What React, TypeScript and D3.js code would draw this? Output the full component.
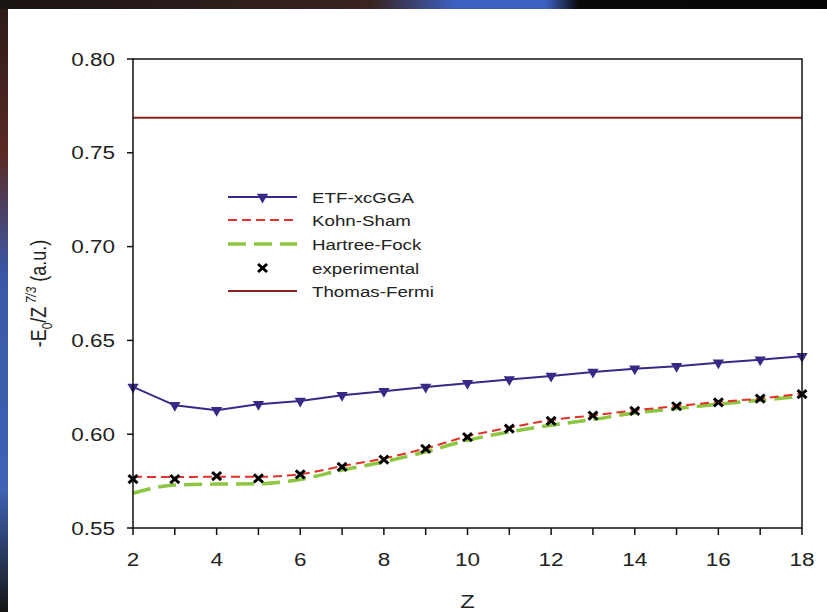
import React from "react";
import * as d3 from "d3";

const zValues = [2, 3, 4, 5, 6, 7, 8, 9, 10, 11, 12, 13, 14, 15, 16, 17, 18];
const etfXcGGA = [0.6252, 0.6154, 0.6128, 0.616, 0.6177, 0.6207, 0.6229, 0.6252, 0.6272, 0.6291, 0.631, 0.6331, 0.6349, 0.6362, 0.6381, 0.6397, 0.6415];
const kohnSham = [0.5773, 0.5772, 0.5773, 0.5773, 0.5787, 0.583, 0.5871, 0.5924, 0.5989, 0.6035, 0.6075, 0.61, 0.6127, 0.615, 0.6172, 0.619, 0.6217];
const hartreeFock = [0.5685, 0.5729, 0.5734, 0.5736, 0.5759, 0.5809, 0.5853, 0.5906, 0.5968, 0.6012, 0.6048, 0.6078, 0.6113, 0.6137, 0.616, 0.6181, 0.6202];
const experimental = [0.5761, 0.5761, 0.5777, 0.5764, 0.5786, 0.5826, 0.5865, 0.5922, 0.5984, 0.603, 0.6071, 0.6099, 0.6124, 0.6149, 0.617, 0.619, 0.6213];
const thomasFermi = 0.7687;

const xTickLabels = [2, 4, 6, 8, 10, 12, 14, 16, 18];
const yTickLabels = [0.55, 0.6, 0.65, 0.7, 0.75, 0.8];
const legendNames = ["ETF-xcGGA", "Kohn-Sham", "Hartree-Fock", "experimental", "Thomas-Fermi"];

const W = 827;
const H = 612;
const M = { left: 133, right: 802, top: 59, bottom: 528 };
const SX = 1.25; // the source picture is stretched sideways

const C_ETF = "#372a86";
const C_KS = "#e3312b";
const C_HF = "#8dc641";
const C_TF = "#8a2222";
const FONT = "'Liberation Sans', Arial, sans-serif";

export default function App() {
  const x = d3.scaleLinear().domain([2, 18]).range([M.left, M.right]);
  const y = d3.scaleLinear().domain([0.55, 0.8]).range([M.bottom, M.top]);

  const straight = d3
    .line<number>()
    .x((_, i) => x(zValues[i]))
    .y((d) => y(d));
  const smooth = d3
    .line<number>()
    .x((_, i) => x(zValues[i]))
    .y((d) => y(d))
    .curve(d3.curveMonotoneX);

  const tri = d3.symbol().type(d3.symbolTriangle).size(55)();

  // legend
  const lx0 = 228;
  const lx1 = 297;
  const ltx = 312;
  const rows = [197, 220, 244, 268, 291];

  const xMark = (cx: number, cy: number, key: string | number) => (
    <g key={key} stroke="#000" strokeWidth={3} strokeLinecap="butt">
      <line x1={cx - 4.5} y1={cy - 4} x2={cx + 4.5} y2={cy + 4} />
      <line x1={cx - 4.5} y1={cy + 4} x2={cx + 4.5} y2={cy - 4} />
    </g>
  );

  const wideText = (
    tx: number,
    ty: number,
    label: string | number,
    size: number,
    anchor: "start" | "middle" | "end",
    key?: string
  ) => (
    <text
      key={key}
      transform={`translate(${tx},${ty}) scale(${SX},1)`}
      textAnchor={anchor}
      fontSize={size}
      fill="#222"
    >
      {label}
    </text>
  );

  return (
    <svg
      width={W}
      height={H}
      style={{ position: "absolute", left: 0, top: 0, display: "block" }}
      fontFamily={FONT}
    >
      <defs>
        <linearGradient id="edge" x1="0" y1="0" x2="0" y2="1">
          <stop offset="0" stopColor="#2a1a18" />
          <stop offset="0.25" stopColor="#5a2a24" />
          <stop offset="0.45" stopColor="#3a58a8" />
          <stop offset="0.8" stopColor="#3f62b4" />
          <stop offset="1" stopColor="#161616" />
        </linearGradient>
        <linearGradient id="topband" x1="0" y1="0" x2="1" y2="0">
          <stop offset="0" stopColor="#1a1412" />
          <stop offset="0.45" stopColor="#3a2422" />
          <stop offset="0.55" stopColor="#3d5fc0" />
          <stop offset="0.66" stopColor="#3d5fc0" />
          <stop offset="0.7" stopColor="#0a0a0a" />
          <stop offset="1" stopColor="#050505" />
        </linearGradient>
      </defs>
      <rect x={0} y={0} width={W} height={H} fill="url(#edge)" />
      <rect x={0} y={0} width={W} height={9} fill="url(#topband)" />
      <rect x={8} y={9} width={W - 8} height={H - 9} fill="#fff" />

      {/* Thomas-Fermi */}
      <line
        x1={x(2)}
        x2={x(18)}
        y1={y(thomasFermi)}
        y2={y(thomasFermi)}
        stroke={C_TF}
        strokeWidth={2}
      />

      {/* Hartree-Fock */}
      <path
        d={smooth(hartreeFock) || ""}
        fill="none"
        stroke={C_HF}
        strokeWidth={3.5}
        strokeDasharray="18 8"
      />
      {/* Kohn-Sham */}
      <path
        d={smooth(kohnSham) || ""}
        fill="none"
        stroke={C_KS}
        strokeWidth={2}
        strokeDasharray="9 5"
      />
      {/* ETF-xcGGA */}
      <path d={straight(etfXcGGA) || ""} fill="none" stroke={C_ETF} strokeWidth={2} />
      {etfXcGGA.map((v, i) => (
        <path
          key={"t" + i}
          d={tri || ""}
          fill={C_ETF}
          transform={`translate(${x(zValues[i])},${y(v)}) rotate(180)`}
        />
      ))}
      {experimental.map((v, i) => xMark(x(zValues[i]), y(v), "e" + i))}

      {/* frame */}
      <rect
        x={M.left}
        y={M.top}
        width={M.right - M.left}
        height={M.bottom - M.top}
        fill="none"
        stroke="#111"
        strokeWidth={1.5}
      />

      {/* x ticks */}
      {zValues.map((z) => (
        <line key={"xt" + z} x1={x(z)} x2={x(z)} y1={M.bottom} y2={M.bottom + 7} stroke="#111" strokeWidth={1.5} />
      ))}
      {xTickLabels.map((z) => wideText(x(z), 566, z, 18, "middle", "xl" + z))}
      {/* y ticks */}
      {yTickLabels.map((v) => (
        <g key={"y" + v}>
          <line x1={M.left - 6} x2={M.left} y1={y(v)} y2={y(v)} stroke="#111" strokeWidth={1.5} />
          {wideText(115, y(v) + 6.5, v.toFixed(2), 18, "end")}
        </g>
      ))}

      {wideText(x(10), 608, "Z", 19, "middle")}
      <text
        transform={`translate(46,${(M.top + M.bottom) / 2}) rotate(-90) scale(1,${SX})`}
        textAnchor="middle"
        fontSize={18}
        fill="#222"
      >
        -E
        <tspan fontSize={12} dy={5}>0</tspan>
        <tspan dy={-5}>/Z</tspan>
        <tspan fontSize={12} dy={-8} fontStyle="italic"> 7/3</tspan>
        <tspan dy={8}> (a.u.)</tspan>
      </text>

      {/* legend */}
      <g>
        <line x1={lx0} x2={lx1} y1={rows[0]} y2={rows[0]} stroke={C_ETF} strokeWidth={2} />
        <path d={tri || ""} fill={C_ETF} transform={`translate(${(lx0 + lx1) / 2},${rows[0]}) rotate(180)`} />

        <line x1={lx0} x2={lx1} y1={rows[1]} y2={rows[1]} stroke={C_KS} strokeWidth={2} strokeDasharray="9 5" />
        <line x1={lx0} x2={lx1} y1={rows[2]} y2={rows[2]} stroke={C_HF} strokeWidth={3.5} strokeDasharray="18 8" />
        {xMark((lx0 + lx1) / 2, rows[3], "lx")}
        <line x1={lx0} x2={lx1} y1={rows[4]} y2={rows[4]} stroke={C_TF} strokeWidth={2} />

        {legendNames.map((name, i) => wideText(ltx, rows[i] + 5.5, name, 15, "start", "ln" + i))}
      </g>
    </svg>
  );
}
